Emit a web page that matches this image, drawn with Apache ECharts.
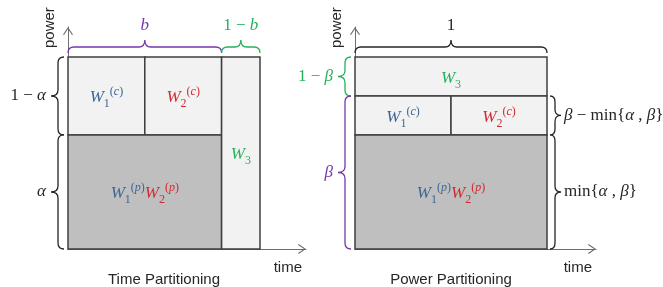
<!DOCTYPE html>
<html><head><meta charset="utf-8">
<script src="https://cdn.jsdelivr.net/npm/echarts@6/dist/echarts.min.js"></script>
<style>html,body{margin:0;padding:0;background:#fff}#c{width:663px;height:287px}</style>
</head><body><div id="c"></div>
<script>
// ---------------- data ----------------
const panelTitles = ['Time Partitioning', 'Power Partitioning'];
const b = 0.8;        // time share of users 1,2 (time partitioning)
const alpha = 0.594;  // power share of private layer
const beta = 0.797;   // power share of users 1,2 (power partitioning)
const minAB = Math.min(alpha, beta);

// rectangles: [x0, x1, y0, y1, dark(0/1), label index]
const cellLabels = ['W1c', 'W2c', 'W12p', 'W3'];
const timeRects = [
  [0, b / 2, alpha, 1, 0, 0],
  [b / 2, b, alpha, 1, 0, 1],
  [0, b, 0, alpha, 1, 2],
  [b, 1, 0, 1, 0, 3]
];
const powerRects = [
  [0, 1, beta, 1, 0, 3],
  [0, 0.5, minAB, beta, 0, 0],
  [0.5, 1, minAB, beta, 0, 1],
  [0, 1, 0, minAB, 1, 2]
];
// braces: [from, to, side (0 top, 1 left, 2 right), label index]
const braceTexts = ['{i|b}', '1 − {i|b}', '1 − {i|α}', '{i|α}', '1', '1 − {i|β}', '{i|β}',
  '{i|β} − min{{i|α} , {i|β}}', 'min{{i|α} , {i|β}}'];
const timeBraces = [
  [0, b, 0, 0], [b, 1, 0, 1], [alpha, 1, 1, 2], [0, alpha, 1, 3]
];
const powerBraces = [
  [0, 1, 0, 4], [beta, 1, 1, 5], [0, beta, 1, 6], [minAB, beta, 2, 7], [0, minAB, 2, 8]
];

// ---------------- styles ----------------
const C = {
  ink: '#262626', blue: '#3d6696', red: '#d22a30', green: '#22b35a', purple: '#7637ab',
  light: '#f2f2f2', dark: '#bfbfbf', border: '#3f3f3f', axis: '#6e6e6e'
};
const SERIF = "'Liberation Serif', 'DejaVu Serif', serif";
const SANS = "'Liberation Sans', Arial, sans-serif";
const braceColors = [C.purple, C.green, C.ink, C.ink, C.ink, C.green, C.purple, C.ink, C.ink];
const W_COL = { b: C.blue, r: C.red, g: C.green };
const mathLabels = {
  W1c: '{Wb|W}{sb|1}{ub|(}{ib|c}{ub|)}',
  W2c: '{Wr|W}{sr|2}{ur|(}{ir|c}{ur|)}',
  W12p: '{Wb|W}{sb|1}{ub|(}{ib|p}{ub|)}{Wr|W}{sr|2}{ur|(}{ir|p}{ur|)}',
  W3: '{Wg|W}{sg|3}'
};
function wRich() {
  const r = {};
  for (const k in W_COL) {
    const fill = W_COL[k];
    r['W' + k] = { font: 'italic 17px ' + SERIF, fill: fill, lineHeight: 24 };
    r['s' + k] = { font: '12px ' + SERIF, fill: fill, verticalAlign: 'bottom' };
    r['u' + k] = { font: '12px ' + SERIF, fill: fill, verticalAlign: 'top' };
    r['i' + k] = { font: 'italic 12px ' + SERIF, fill: fill, verticalAlign: 'top' };
  }
  return r;
}
// brace geometry per side: gap from edge, depth to spine, tip length, label offset
const SIDE = [
  { gap: 4, dep: 6, tip: 7, lab: 14 },
  { gap: 4, dep: 6, tip: 7, lab: 5 },
  { gap: 3, dep: 5, tip: 6, lab: 3 }
];
const UNIT = 192;
const ARROW = 'path://M0,7.4 L5,0 L10,7.4 L9,8 L5,2 L1,8 Z';

function rectRender(params, api) {
  const p0 = api.coord([api.value(0), api.value(3)]);
  const p1 = api.coord([api.value(1), api.value(2)]);
  const dark = api.value(4) === 1;
  const lab = cellLabels[api.value(5)];
  return {
    type: 'group',
    children: [
      { type: 'rect', shape: { x: p0[0], y: p0[1], width: p1[0] - p0[0], height: p1[1] - p0[1] },
        style: { fill: dark ? C.dark : C.light, stroke: C.border, lineWidth: 1.5 } },
      { type: 'text', x: (p0[0] + p1[0]) / 2, y: (p0[1] + p1[1]) / 2 + 2, z2: 10,
        style: { text: mathLabels[lab], rich: wRich(), font: '17px ' + SERIF, fill: C.ink,
                 align: 'center', verticalAlign: 'middle' } }
    ]
  };
}

function braceRender(params, api) {
  const side = api.value(2), li = api.value(3);
  const color = braceColors[li];
  const S = SIDE[side];
  let ua, ub, toXY;
  if (side === 0) {
    const e = api.coord([0, 1])[1];
    ua = api.coord([api.value(0), 1])[0]; ub = api.coord([api.value(1), 1])[0];
    toXY = (u, n) => [u, e - n];
  } else {
    const e = api.coord([side === 1 ? 0 : 1, 0])[0];
    ua = api.coord([0, api.value(1)])[1]; ub = api.coord([0, api.value(0)])[1];
    toXY = side === 1 ? (u, n) => [e - n, u] : (u, n) => [e + n, u];
  }
  const um = (ua + ub) / 2, r = Math.min(6, (ub - ua) / 4);
  const g = S.gap, s = S.gap + S.dep, t = s + S.tip;
  const P = (u, n) => { const p = toXY(u, n); return p[0].toFixed(2) + ',' + p[1].toFixed(2); };
  const d = 'M' + P(ua, g) + ' Q' + P(ua, s) + ' ' + P(ua + r, s) + ' L' + P(um - r, s) +
    ' Q' + P(um, s) + ' ' + P(um, t) + ' Q' + P(um, s) + ' ' + P(um + r, s) +
    ' L' + P(ub - r, s) + ' Q' + P(ub, s) + ' ' + P(ub, g);
  const lp = toXY(um, t + S.lab);
  return {
    type: 'group',
    children: [
      { type: 'path', shape: { pathData: d }, style: { fill: 'none', stroke: color, lineWidth: 1.3 } },
      { type: 'text', x: lp[0], y: lp[1],
        style: { text: braceTexts[li], font: '17px ' + SERIF, fill: color,
                 rich: { i: { font: 'italic 17px ' + SERIF, fill: color } },
                 align: side === 0 ? 'center' : (side === 1 ? 'right' : 'left'), verticalAlign: 'middle' } }
    ]
  };
}

const grids = [
  { left: 68, top: 27, width: 238, height: 222 },
  { left: 355, top: 27, width: 241, height: 222 }
];
function xAx(i) {
  return {
    type: 'value', gridIndex: i, min: 0, max: grids[i].width / UNIT,
    name: 'time', nameLocation: 'end', nameGap: -4,
    nameTextStyle: { fontFamily: SANS, fontSize: 15, color: C.ink, align: 'right', verticalAlign: 'top', padding: [11, 0, 0, 0] },
    axisLine: { show: true, onZero: false, symbol: ['none', ARROW], symbolSize: [10, 8], symbolOffset: [0, -4],
                lineStyle: { color: C.axis, width: 1 } },
    axisTick: { show: false }, axisLabel: { show: false }, splitLine: { show: false }
  };
}
function yAx(i) {
  return {
    type: 'value', gridIndex: i, min: 0, max: grids[i].height / UNIT,
    name: 'power', nameLocation: 'end', nameGap: -21, nameRotate: 90,
    nameTextStyle: { fontFamily: SANS, fontSize: 15, color: C.ink, align: 'left', verticalAlign: 'bottom', padding: [0, 0, 11, 0] },
    axisLine: { show: true, onZero: false, symbol: ['none', ARROW], symbolSize: [10, 8], symbolOffset: [0, -4],
                lineStyle: { color: C.axis, width: 1 } },
    axisTick: { show: false }, axisLabel: { show: false }, splitLine: { show: false }
  };
}

const chart = echarts.init(document.getElementById('c'), null, { renderer: 'canvas' });
chart.setOption({
  animation: false,
  backgroundColor: '#fff',
  grid: grids,
  xAxis: [xAx(0), xAx(1)],
  yAxis: [yAx(0), yAx(1)],
  graphic: [
    { type: 'text', x: 164, y: 280, style: { text: panelTitles[0], font: '15px ' + SANS, fill: C.ink, align: 'center', verticalAlign: 'middle' } },
    { type: 'text', x: 451, y: 280, style: { text: panelTitles[1], font: '15px ' + SANS, fill: C.ink, align: 'center', verticalAlign: 'middle' } }
  ],
  series: [
    { type: 'custom', name: 'time cells', xAxisIndex: 0, yAxisIndex: 0, renderItem: rectRender, data: timeRects, encode: { x: [0, 1], y: [2, 3] }, silent: true },
    { type: 'custom', name: 'time braces', xAxisIndex: 0, yAxisIndex: 0, renderItem: braceRender, data: timeBraces, encode: { x: [0, 1] }, silent: true },
    { type: 'custom', name: 'power cells', xAxisIndex: 1, yAxisIndex: 1, renderItem: rectRender, data: powerRects, encode: { x: [0, 1], y: [2, 3] }, silent: true },
    { type: 'custom', name: 'power braces', xAxisIndex: 1, yAxisIndex: 1, renderItem: braceRender, data: powerBraces, encode: { x: [0, 1] }, silent: true }
  ]
});
</script></body></html>
